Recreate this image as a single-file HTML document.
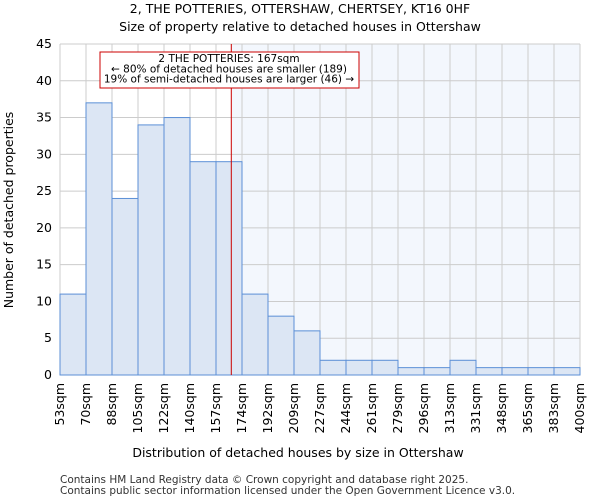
<!DOCTYPE html>
<html><head><meta charset="utf-8"><style>
body{margin:0;background:#fff;font-family:"DejaVu Sans","Liberation Sans",sans-serif}
</style></head><body>
<svg id="chart" width="600" height="500" xmlns="http://www.w3.org/2000/svg" font-family="DejaVu Sans, Liberation Sans, sans-serif">
<text x="300" y="13" text-anchor="middle" font-size="12.5">2, THE POTTERIES, OTTERSHAW, CHERTSEY, KT16 0HF</text>
<text x="300" y="31" text-anchor="middle" font-size="12.5">Size of property relative to detached houses in Ottershaw</text>
<g id="plot"></g>
<text x="298" y="457" text-anchor="middle" font-size="12.5">Distribution of detached houses by size in Ottershaw</text>
<text transform="translate(13,210) rotate(-90)" text-anchor="middle" font-size="12.5">Number of detached properties</text>
<text x="60" y="483" font-size="10.5" fill="#333">Contains HM Land Registry data © Crown copyright and database right 2025.</text>
<text x="60" y="494" font-size="10.5" fill="#333">Contains public sector information licensed under the Open Government Licence v3.0.</text>
</svg>
<script>
const binLabels=["53sqm","70sqm","88sqm","105sqm","122sqm","140sqm","157sqm","174sqm","192sqm","209sqm","227sqm","244sqm","261sqm","279sqm","296sqm","313sqm","331sqm","348sqm","365sqm","383sqm","400sqm"];
const counts=[11,37,24,34,35,29,29,11,8,6,2,2,2,1,1,2,1,1,1,1];
const yTicks=[0,5,10,15,20,25,30,35,40,45];
const propertyBin=6+10/17;
const NS="http://www.w3.org/2000/svg";
const g=document.getElementById("plot");
const L=60,R=580,T=44,B=375,yMax=45;
const n=counts.length,bw=(R-L)/n;
const x=i=>L+i*bw, y=v=>B-(B-T)*v/yMax;
function el(t,a){const e=document.createElementNS(NS,t);for(const k in a)e.setAttribute(k,a[k]);g.appendChild(e);return e;}
const px=x(propertyBin);
let e=el("rect",{x:px,y:T,width:R-px,height:B-T,fill:"#eef3fc",opacity:0.7});


yTicks.forEach(t=>{
 let l=el("line",{x1:L,x2:R,y1:y(t),y2:y(t),stroke:"#ccc","stroke-width":1});
 
 
 let tx=el("text",{x:L-8,y:y(t)+4,"text-anchor":"end","font-size":12.5});
 tx.textContent=t;
 
 
});
binLabels.forEach((b,i)=>{
 let l=el("line",{x1:x(i),x2:x(i),y1:T,y2:B,stroke:"#ccc","stroke-width":1});
 
 
 let tx=el("text",{transform:`translate(${x(i)+4},${B+8}) rotate(-90)`,"text-anchor":"end","font-size":12.5});
 tx.textContent=b;
 
 
});
counts.forEach((c,i)=>{
 let r=el("rect",{x:x(i),y:y(c),width:bw,height:B-y(c),fill:"#dce6f4",stroke:"#5b8fd6","stroke-width":1});
 
 
});
e=el("line",{x1:px,x2:px,y1:T,y2:B,stroke:"#c00","stroke-width":1});


e=el("rect",{x:100,y:52,width:259,height:36,fill:"#fff",stroke:"#c00","stroke-width":1});


["2 THE POTTERIES: 167sqm","← 80% of detached houses are smaller (189)","19% of semi-detached houses are larger (46) →"].forEach((s,i)=>{
 let tx=el("text",{x:229,y:62+i*10.3,"text-anchor":"middle","font-size":10.5});
 tx.textContent=s;
 
 
});
</script>
</body></html>
